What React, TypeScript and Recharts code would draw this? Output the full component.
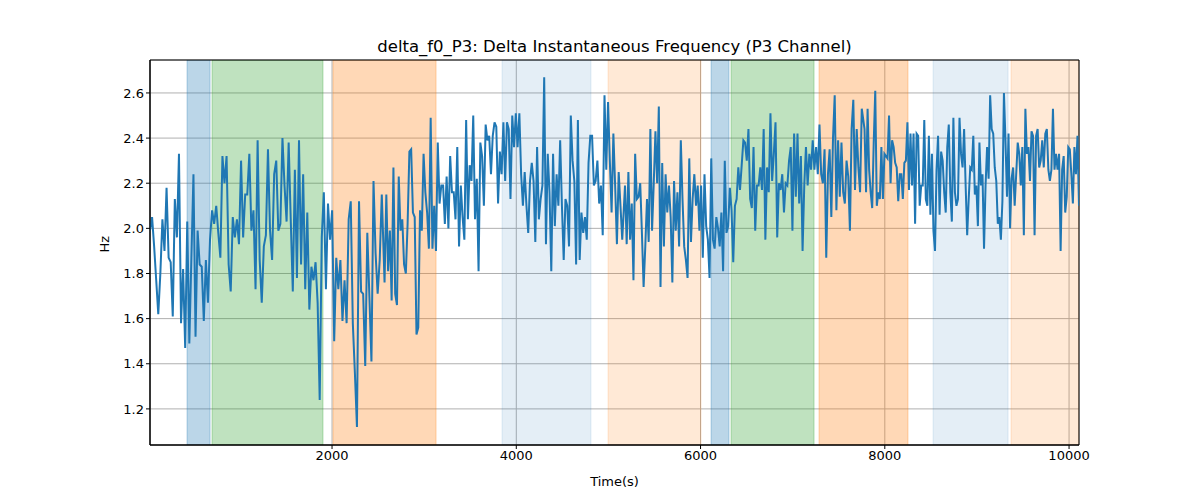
import { LineChart, Line, XAxis, YAxis, CartesianGrid, ReferenceArea } from "recharts";

// values, four consecutive stretches of the trace
const seg1 = [1.99,2.05,1.92,1.77,1.62,1.80,2.04,1.90,2.18,1.87,1.85,1.61,2.13,1.96,2.33,1.58,1.82,1.47,2.03,1.49,1.87,2.24,1.52,1.99,1.84,1.83,1.59,1.86,1.67,1.95,2.08,2.02,2.10,1.98,1.87,2.32,2.20,2.32,1.84,1.72,2.05,1.96,2.04,1.93,2.30,1.96,2.15,2.15,2.33,1.99,2.08,1.73,2.39,1.86,1.67,1.92,1.97,2.35,1.99,1.86,2.24,2.30,1.99,2.02,2.40,2.19,2.03,2.38,2.04,1.72,2.26,1.78,2.39,1.84,2.24,1.73,2.07,1.64,1.83,1.77,1.85,1.67,1.24,1.96,2.16,1.73,2.11,1.95,2.08,1.50,1.87,1.73,1.86,1.59,1.77,1.58,2.04,2.12,1.58,1.36,1.12,2.12,1.72,1.71,1.39,1.98,1.70,1.41,2.21,1.89,1.71,1.86,2.15];
const seg2 = [1.76,2.15,1.81,1.99,1.68,2.27,1.71,1.66,2.23,1.99,2.04,1.84,1.80,2.02,2.34,2.35,2.07,2.05,1.53,1.56,2.08,1.99,2.33,2.16,2.07,1.91,2.49,1.91,2.10,1.90,2.38,2.11,2.19,2.19,2.02,2.23,2.00,2.32,2.16,2.16,2.04,2.36,1.92,2.19,2.05,1.95,2.48,2.04,2.28,2.21,2.50,2.04,2.22,1.81,2.38,2.32,2.10,2.46,2.39,2.41,2.24,2.41,2.47,2.45,2.11,2.34,2.24,2.47,2.21,2.47,2.44,2.13,2.50,2.36,2.51,2.36,2.51,2.24,2.10,2.25,2.10,1.98,2.21,2.29,2.21,1.94,2.36,2.04,2.13,2.19,2.67,1.93,2.33,2.16,1.81,2.33,2.01,2.24,2.10,2.39,2.10,1.86,2.13,2.10,1.92,2.50,2.30,2.21,1.84,2.48,1.86,2.07,1.98,2.05,1.95,2.29,2.41,2.41,2.19,2.21,2.30,2.11,2.19,1.97,2.59,2.26,2.56,2.30,2.07,2.42,2.19,1.93,2.25,2.10,1.95];
const seg3 = [2.19,1.93,2.25,1.95,2.11,1.77,2.33,2.13,2.14,2.20,1.98,1.74,1.92,2.13,1.94,2.44,1.99,2.20,2.43,2.20,2.54,1.74,2.29,1.92,2.24,2.07,2.19,2.05,1.76,2.21,1.99,2.16,1.92,2.39,2.13,1.92,1.86,1.78,2.31,1.94,2.13,2.24,2.10,2.19,1.99,2.19,1.87,2.24,2.01,1.95,1.78,2.31,1.95,1.91,2.05,2.00,1.92,2.07,1.81,2.30,1.98,2.01,2.18,2.08,1.85,2.10,2.13,2.27,2.17,2.28,2.39,2.38,2.30,2.44,2.13,2.09,2.36,1.99,2.19,2.19,2.27,2.17,2.44,1.95,2.27,2.16,2.51,2.21,2.33,2.47,1.96,2.20,2.17,2.24,2.07,2.20,2.19,2.30,2.36,1.99,2.42,2.14,2.42,2.11,2.32,1.90,2.19,2.36,2.19,2.33,2.26,2.39,2.26,2.36,2.24,2.46,2.24,2.20,2.35,1.87,2.24,2.35,2.05,2.40,2.59,2.08,2.39,2.14,2.38,2.16,2.11,2.30,2.23,1.99,2.44,2.57,2.17,2.44,2.27,2.16,2.53];
const seg4 = [2.44,2.16,2.53,2.26,2.16,2.09,2.38,2.61,2.10,2.16,2.13,2.36,2.13,2.33,2.32,2.31,2.50,2.20,2.39,2.36,2.29,2.27,2.12,2.24,2.24,2.13,2.29,2.30,2.47,2.17,2.42,2.19,2.42,2.02,2.42,2.41,2.10,2.19,2.19,2.48,2.13,2.10,2.41,2.06,2.33,1.99,1.90,2.26,2.41,2.06,2.34,2.30,2.16,2.07,2.36,2.46,2.16,2.03,2.49,2.16,2.10,2.13,2.49,2.33,2.27,2.44,2.19,1.97,2.13,2.27,2.26,2.41,2.15,2.19,2.01,2.38,2.19,2.24,1.91,2.19,2.36,2.22,2.59,2.44,2.42,2.27,2.21,2.02,2.05,1.95,2.12,2.60,2.39,2.14,2.42,2.00,2.22,2.27,2.10,2.24,2.38,2.33,2.19,2.36,1.97,2.53,2.33,2.36,2.21,2.43,2.41,1.97,2.41,2.44,2.27,2.30,2.39,2.27,2.42,2.44,2.26,2.21,2.26,2.53,2.26,2.33,2.26,2.33,1.90,2.26,2.32,2.07,2.14,2.36,2.35,2.24,2.11,2.36,2.24,2.41,2.10];
// time range each stretch covers
const segRanges: [number, number][] = [[24, 2540], [2570, 5150], [5180, 7750], [7780, 10108]];

// shaded intervals: [start, end, color, opacity]
const spans: [number, number, string, number][] = [
  [426, 676, "#1f77b4", 0.3],
  [697, 1902, "#2ca02c", 0.3],
  [2011, 3129, "#ff7f0e", 0.3],
  [3845, 4811, "#1f77b4", 0.12],
  [4996, 6005, "#ff7f0e", 0.17],
  [6114, 6309, "#1f77b4", 0.3],
  [6331, 7232, "#2ca02c", 0.3],
  [7286, 8252, "#ff7f0e", 0.3],
  [8524, 9338, "#1f77b4", 0.12],
  [9370, 10108, "#ff7f0e", 0.17],
];

const xTicks = [2000, 4000, 6000, 8000, 10000];
const yTicks = [1.2, 1.4, 1.6, 1.8, 2.0, 2.2, 2.4, 2.6];

const data = [seg1, seg2, seg3, seg4].flatMap((seg, s) => {
  const [a, b] = segRanges[s];
  return seg.map((v, i) => ({ t: a + ((b - a) * i) / (seg.length - 1), v }));
});

const font = "DejaVu Sans";

export default function App() {
  return (
    <div style={{ position: "absolute", left: 0, top: 0, width: 1200, height: 500, background: "#fff", fontFamily: font }}>
      <div style={{ position: "absolute", top: 37, left: 150, width: 929, textAlign: "center", fontSize: 16.5 }}>
        delta_f0_P3: Delta Instantaneous Frequency (P3 Channel)
      </div>
      <LineChart width={1200} height={500} data={data} margin={{ top: 60, right: 121, bottom: 0, left: 0 }}>
        <CartesianGrid stroke="#b0b0b0" strokeWidth={1} />
        {spans.map(([a, b, c, o], i) => (
          <ReferenceArea key={i} x1={a} x2={b} fill={c} fillOpacity={o} stroke={c} strokeOpacity={o} ifOverflow="hidden" />
        ))}
        <XAxis
          dataKey="t"
          type="number"
          domain={[24, 10108]}
          ticks={xTicks}
          allowDataOverflow
          tickSize={4}
          stroke="#000"
          tick={{ fill: "#000", fontSize: 13, fontFamily: font }}
          height={55}
          label={{ value: "Time(s)", position: "insideBottom", offset: 14, fill: "#000", fontSize: 13, fontFamily: font }}
        />
        <YAxis
          type="number"
          domain={[1.04, 2.746]}
          ticks={yTicks}
          allowDataOverflow
          width={150}
          tickSize={4}
          stroke="#000"
          tickFormatter={(v: number) => v.toFixed(1)}
          tick={{ fill: "#000", fontSize: 13, fontFamily: font }}
          label={{ value: "Hz", angle: -90, position: "insideLeft", offset: 104, fill: "#000", fontSize: 13, fontFamily: font }}
        />
        <ReferenceArea x1={24} x2={10108} y1={1.04} y2={2.746} fill="none" stroke="#000" strokeWidth={1} ifOverflow="visible" />
        <Line dataKey="v" stroke="#1f77b4" strokeWidth={2} dot={false} isAnimationActive={false} />
      </LineChart>
    </div>
  );
}
